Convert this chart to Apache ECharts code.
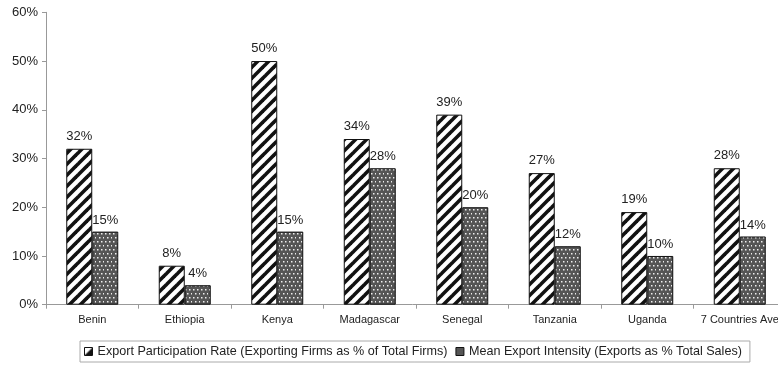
<!DOCTYPE html>
<html>
<head>
<meta charset="utf-8">
<script src="https://cdn.jsdelivr.net/npm/echarts@6/dist/echarts.min.js"></script>
<style>
  html, body { margin: 0; padding: 0; background: #fff; }
  #chart { width: 778px; height: 367px; }
</style>
</head>
<body>
<div id="chart"></div>
<script>
// Export performance of manufacturing firms by country
const categories = ['Benin', 'Ethiopia', 'Kenya', 'Madagascar', 'Senegal', 'Tanzania', 'Uganda', '7 Countries Ave'];
const participationRate = [32, 8, 50, 34, 39, 27, 19, 28];
const exportIntensity = [15, 4, 15, 28, 20, 12, 10, 14];
const yTicks = { min: 0, max: 60, interval: 10 };
const seriesNames = [
  'Export Participation Rate (Exporting Firms as % of Total Firms)',
  'Mean Export Intensity (Exports as % Total Sales)'
];

// Diagonal black stripes on white
function stripePattern() {
  const s = 11;
  const c = document.createElement('canvas');
  c.width = s; c.height = s;
  const g = c.getContext('2d');
  g.fillStyle = '#fff';
  g.fillRect(0, 0, s, s);
  g.strokeStyle = '#111';
  g.lineWidth = 3.6;
  for (const k of [-s, 0, s]) {
    g.beginPath();
    g.moveTo(k - 2, s + 2);
    g.lineTo(k + s + 2, -2);
    g.stroke();
  }
  return c;
}

// Light dots on dark grey
function dotPattern() {
  const s = 8;
  const c = document.createElement('canvas');
  c.width = s; c.height = s;
  const g = c.getContext('2d');
  g.fillStyle = '#555';
  g.fillRect(0, 0, s, s);
  g.fillStyle = '#eee';
  [[1, 1], [5, 1], [3, 5], [7, 5]].forEach(([x, y]) => g.fillRect(x, y, 1.5, 1.5));
  return c;
}

// Legend swatch: square split along its diagonal
function legendStripe() {
  const s = 8;
  const c = document.createElement('canvas');
  c.width = s; c.height = s;
  const g = c.getContext('2d');
  g.fillStyle = '#fff';
  g.fillRect(0, 0, s, s);
  g.fillStyle = '#111';
  g.beginPath();
  g.moveTo(s, 0); g.lineTo(s, s); g.lineTo(0, s);
  g.closePath();
  g.fill();
  return c;
}

const stripe = { image: stripePattern(), repeat: 'repeat' };
const dots = { image: dotPattern(), repeat: 'repeat' };

const font = '"Liberation Sans", Arial, sans-serif';

const chart = echarts.init(document.getElementById('chart'), null, { renderer: 'canvas' });
chart.setOption({
  animation: false,
  backgroundColor: '#fff',
  textStyle: { fontFamily: font, color: '#222' },
  // plot area runs past the right edge of the page
  grid: { left: 46, top: 12.3, width: 740, height: 292.4, containLabel: false, outerBoundsMode: 'none' },
  legend: {
    left: 80,
    top: 341,
    padding: [4, 8, 4, 4],
    itemWidth: 8,
    itemHeight: 8,
    itemGap: 8,
    borderColor: '#aaa',
    borderWidth: 1,
    textStyle: { fontSize: 12.6, color: '#222', fontFamily: font },
    data: [
      { name: seriesNames[0], icon: 'rect', itemStyle: { color: { image: legendStripe(), repeat: 'no-repeat' }, borderColor: '#111', borderWidth: 1 } },
      { name: seriesNames[1], icon: 'rect', itemStyle: { color: '#555', borderColor: '#111', borderWidth: 1 } }
    ]
  },
  xAxis: {
    type: 'category',
    data: categories,
    axisLine: { lineStyle: { color: '#999', width: 1 } },
    axisTick: { show: true, length: 4, lineStyle: { color: '#999' } },
    axisLabel: { interval: 0, fontSize: 11, color: '#222', margin: 10, fontFamily: font, hideOverlap: false }
  },
  yAxis: {
    type: 'value',
    min: yTicks.min,
    max: yTicks.max,
    interval: yTicks.interval,
    axisLine: { show: true, lineStyle: { color: '#999', width: 1 } },
    axisTick: { show: true, length: 4, lineStyle: { color: '#999' } },
    splitLine: { show: false },
    axisLabel: { formatter: '{value}%', fontSize: 13, color: '#222', margin: 8, fontFamily: font }
  },
  series: [
    {
      name: seriesNames[0],
      type: 'bar',
      data: participationRate,
      barWidth: 26,
      barGap: '0%',
      itemStyle: { color: stripe, borderColor: '#111', borderWidth: 1 },
      label: { show: true, position: 'top', distance: 6, formatter: '{c}%', fontSize: 13, color: '#222', fontFamily: font }
    },
    {
      name: seriesNames[1],
      type: 'bar',
      data: exportIntensity,
      barWidth: 26,
      barGap: '0%',
      itemStyle: { color: dots, borderColor: '#111', borderWidth: 1 },
      label: { show: true, position: 'top', distance: 5, formatter: '{c}%', fontSize: 13, color: '#222', fontFamily: font }
    }
  ]
});
</script>
</body>
</html>
